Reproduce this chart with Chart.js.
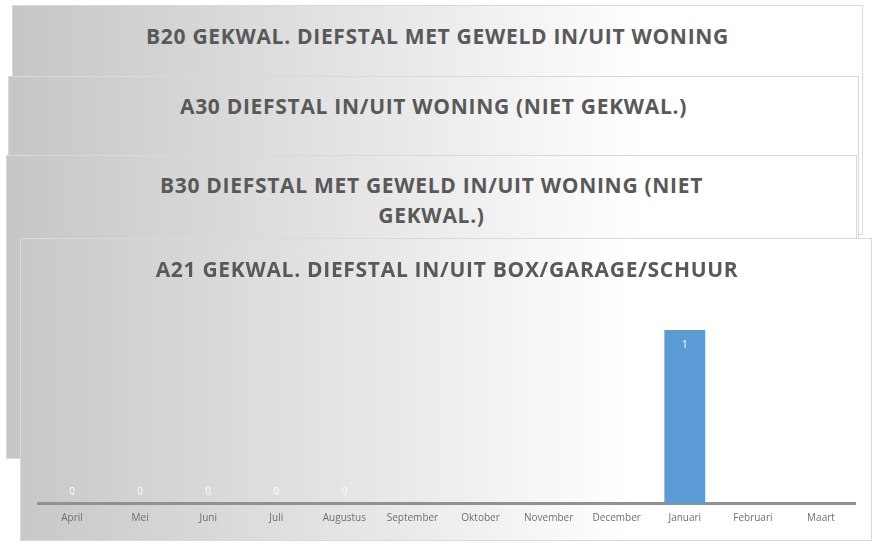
<!DOCTYPE html>
<html>
<head>
<meta charset="utf-8">
<script src="https://cdn.jsdelivr.net/npm/chart.js@4.4.1/dist/chart.umd.min.js"></script>
<style>
  html, body { margin: 0; padding: 0; background: #ffffff; }
  body { width: 874px; height: 550px; position: relative; overflow: hidden; font-family: "Open Sans", sans-serif; }
  .card {
    position: absolute;
    box-sizing: border-box;
    border: 1px solid #d9d9d9;
    background: linear-gradient(to right, #c6c6c6 0%, #e4e4e4 40%, #ffffff 75%);
  }
  .card .title {
    position: absolute; left: 0; right: 0;
    text-align: center; color: #595959;
    font-weight: bold; font-size: 21px; line-height: 30px;
    letter-spacing: 0.7px;
  }
  #front { background: linear-gradient(to right, #c8c8c8 0%, #e6e6e6 40%, #ffffff 72%); }
  #chart { position: absolute; left: 0; top: 0; }
</style>
</head>
<body>
<div class="card" style="left:12px; top:5px; width:851px; height:230px; z-index:1;">
  <div class="title" style="top:15px;">B20 GEKWAL. DIEFSTAL MET GEWELD IN/UIT WONING</div>
</div>
<div class="card" style="left:8px; top:76px; width:851px; height:230px; z-index:2;">
  <div class="title" style="top:14px;">A30 DIEFSTAL IN/UIT WONING (NIET GEKWAL.)</div>
</div>
<div class="card" style="left:6px; top:155px; width:851px; height:304px; z-index:3;">
  <div class="title" style="top:14px;">B30 DIEFSTAL MET GEWELD IN/UIT WONING (NIET<br>GEKWAL.)</div>
</div>
<div class="card" id="front" style="left:20px; top:238px; width:852px; height:303px; z-index:4;">
  <canvas id="chart" width="850" height="301"></canvas>
  <div class="title" id="frontTitle" style="top:15px; left:2px;"></div>
</div>
<script>
// Maanden en aantallen
const maanden = ['April', 'Mei', 'Juni', 'Juli', 'Augustus', 'September', 'Oktober', 'November', 'December', 'Januari', 'Februari', 'Maart'];
const aantallen = [0, 0, 0, 0, 0, null, null, null, null, 1, null, null];
const titel = 'A21 GEKWAL. DIEFSTAL IN/UIT BOX/GARAGE/SCHUUR';

document.getElementById('frontTitle').textContent = titel;

// Labels met waarden (zoals Excel "binnen einde")
const waardeLabels = {
  id: 'waardeLabels',
  afterDatasetsDraw(chart) {
    const ctx = chart.ctx;
    const meta = chart.getDatasetMeta(0);
    ctx.save();
    ctx.fillStyle = '#ffffff';
    ctx.font = '10px "Open Sans"';
    ctx.textAlign = 'center';
    ctx.textBaseline = 'middle';
    meta.data.forEach((bar, i) => {
      const v = aantallen[i];
      if (v === null) return;
      const y = v === 0 ? bar.y - 11 : bar.y + 15;
      ctx.fillText(String(v), bar.x, y);
    });
    ctx.restore();
  }
};

new Chart(document.getElementById('chart').getContext('2d'), {
  type: 'bar',
  data: {
    labels: maanden,
    datasets: [{
      data: aantallen,
      backgroundColor: '#5b9bd5',
      categoryPercentage: 0.6,
      barPercentage: 1.0
    }]
  },
  options: {
    responsive: false,
    animation: false,
    layout: { padding: { left: 17, right: 16, top: 60, bottom: 7 } },
    plugins: {
      legend: { display: false },
      tooltip: { enabled: false },
      title: { display: false }
    },
    scales: {
      x: {
        grid: { display: false, drawTicks: false },
        border: { display: true, color: '#919191', width: 3 },
        ticks: { color: '#6f6f6f', font: { family: 'Open Sans', size: 10 }, padding: 9, maxRotation: 0, autoSkip: false }
      },
      y: {
        display: false,
        min: 0,
        max: 1.18
      }
    }
  },
  plugins: [waardeLabels]
});
</script>
</body>
</html>
